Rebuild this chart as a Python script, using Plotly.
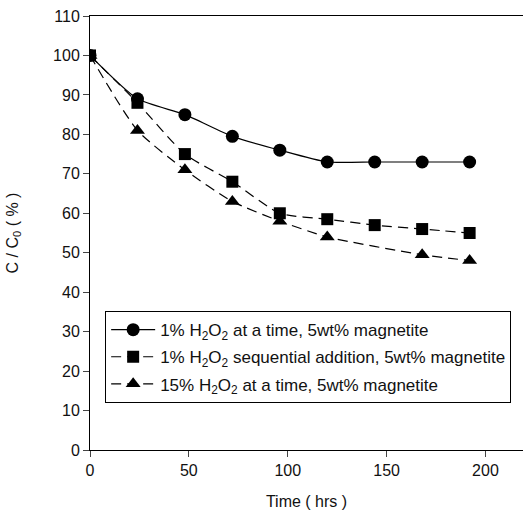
import plotly.graph_objects as go

time_hrs = [0, 24, 48, 72, 96, 120, 144, 168, 192]
s1_vals = [100, 89, 85, 79.5, 76, 73, 73, 73, 73]
s2_vals = [100, 88, 75, 68, 60, 58.5, 57, 56, 55]
s3_vals = [100, 81, 71, 63, 58, 54, None, 49.5, 48]

s1_name = "1% H<sub>2</sub>O<sub>2</sub> at a time, 5wt% magnetite"
s2_name = "1% H<sub>2</sub>O<sub>2</sub> sequential addition, 5wt% magnetite"
s3_name = "15% H<sub>2</sub>O<sub>2</sub> at a time, 5wt% magnetite"

x_ticks = [0, 50, 100, 150, 200]
y_ticks = list(range(0, 111, 10))

FONT = "Liberation Sans, Arial, sans-serif"

fig = go.Figure()
fig.add_trace(go.Scatter(
    x=time_hrs, y=s1_vals, name=s1_name, mode="lines+markers",
    line=dict(color="black", width=1.2, shape="spline", smoothing=0.6),
    marker=dict(symbol="circle", size=13, color="black"),
    legendgroup="a"))
fig.add_trace(go.Scatter(
    x=time_hrs, y=s2_vals, name=s2_name, mode="lines+markers",
    line=dict(color="black", width=1.2, dash="10px,6px", shape="spline", smoothing=0.6),
    marker=dict(symbol="square", size=12, color="black"),
    legendgroup="b"))
fig.add_trace(go.Scatter(
    x=time_hrs, y=s3_vals, name=s3_name, mode="lines+markers", connectgaps=True,
    line=dict(color="black", width=1.2, dash="10px,6px", shape="spline", smoothing=0.6),
    marker=dict(symbol="triangle-up", size=13, color="black"),
    legendgroup="c"))

fig.update_layout(
    width=523, height=517,
    margin=dict(l=90, r=0, t=16, b=67, autoexpand=False),
    paper_bgcolor="white", plot_bgcolor="white",
    font=dict(family=FONT, size=16, color="#111"),
    showlegend=True,
    legend=dict(x=0.035, y=0.32, xanchor="left", yanchor="top",
                bordercolor="black", borderwidth=1, bgcolor="white",
                font=dict(size=17), tracegroupgap=2,
                itemwidth=44),
    xaxis=dict(range=[0, 219], tickvals=x_ticks, ticks="outside", ticklen=6,
               showline=True, linecolor="black", linewidth=1, mirror=True,
               showgrid=False, zeroline=False, automargin=False,
               title=dict(text="Time ( hrs )", standoff=17, font=dict(size=16))),
    yaxis=dict(range=[0, 110], tickvals=y_ticks, ticks="outside", ticklen=6,
               showline=True, linecolor="black", linewidth=1,
               showgrid=False, zeroline=False, automargin=False,
               title=dict(text="C / C<sub>0</sub> ( % )", standoff=30, font=dict(size=16))),
)

fig.write_html("out.html", config={"displayModeBar": False},
               post_script="document.body.style.margin='0';document.body.style.overflow='hidden';")
